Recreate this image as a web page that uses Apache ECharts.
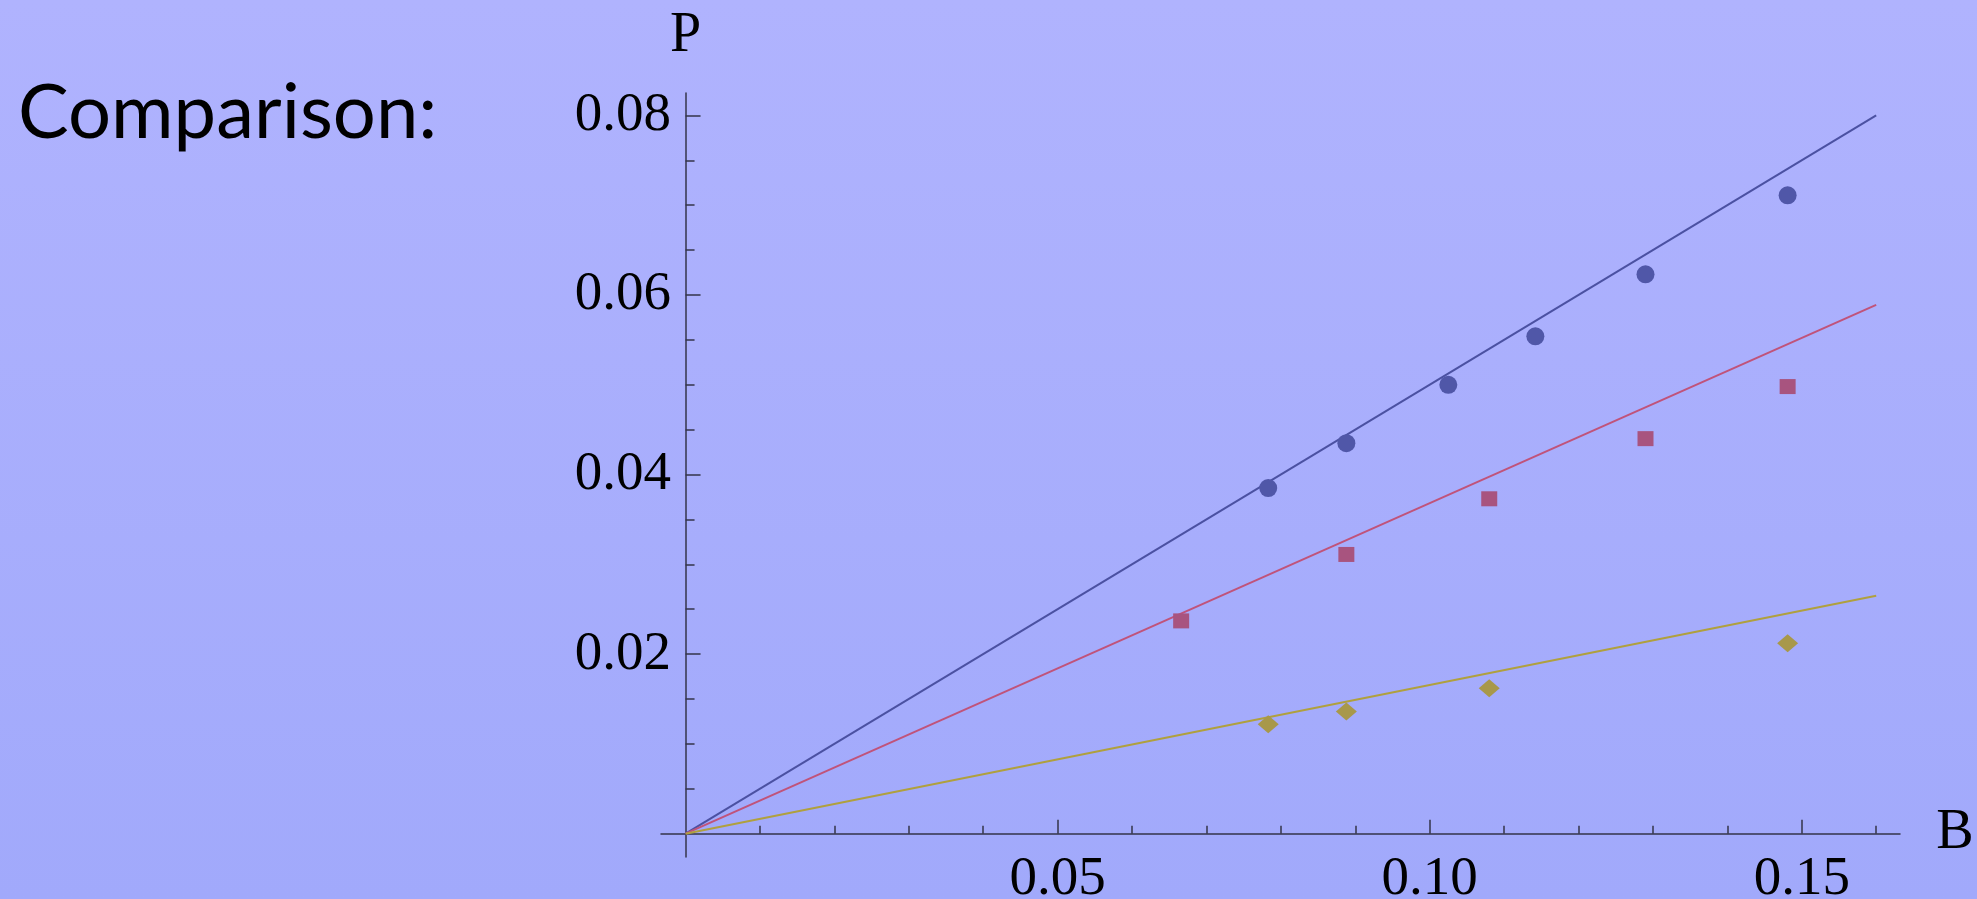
<!DOCTYPE html>
<html>
<head>
<meta charset="utf-8">
<script src="https://cdn.jsdelivr.net/npm/echarts@6/dist/echarts.min.js"></script>
<style>
html,body{margin:0;padding:0;background:#a8aefc;}
#chart{width:1977px;height:899px;}
</style>
</head>
<body>
<div id="chart"></div>
<script>
// ---- data ----
const titleText = 'Comparison:';
const xName = 'B';
const yName = 'P';
const xMajorTicks = [0.05, 0.10, 0.15];
const xMinorTicks = [0.01, 0.02, 0.03, 0.04, 0.06, 0.07, 0.08, 0.09, 0.11, 0.12, 0.13, 0.14, 0.16];
const yMajorTicks = [0.02, 0.04, 0.06, 0.08];
const yMinorTicks = [0.005, 0.01, 0.015, 0.025, 0.03, 0.035, 0.045, 0.05, 0.055, 0.065, 0.07, 0.075];

const lineB = [0, 0.16];
const blueLineP = [0, 0.08];
const redLineP = [0, 0.0589];
const yellowLineP = [0, 0.0265];

const blueB = [0.0783, 0.0888, 0.1025, 0.1142, 0.1290, 0.1481];
const blueP = [0.0385, 0.0435, 0.0500, 0.0554, 0.0623, 0.0711];
const redB = [0.0666, 0.0888, 0.1080, 0.1290, 0.1481];
const redP = [0.0237, 0.0311, 0.0373, 0.0440, 0.0498];
const yellowB = [0.0783, 0.0888, 0.1080, 0.1481];
const yellowP = [0.0122, 0.0136, 0.0162, 0.0212];

// ---- build ----
const zip = (a, b) => a.map((v, i) => [v, b[i]]);
const axisColor = '#35354a';
const serif = 'Liberation Serif';
const X_MIN = -0.0033, X_MAX = 0.1632, Y_MIN = -0.0026, Y_MAX = 0.0825;

const chart = echarts.init(document.getElementById('chart'));
chart.setOption({
  backgroundColor: new echarts.graphic.LinearGradient(0, 0, 0, 1, [
    {offset: 0, color: '#b0b3fe'},
    {offset: 1, color: '#a1a9fb'}
  ]),
  animation: false,
  title: {
    text: titleText, left: 13, top: 70,
    textStyle: {fontFamily: 'Lato', fontWeight: 'normal', fontSize: 76, color: '#000'}
  },
  grid: {left: 661, right: 77, top: 93, bottom: 42, containLabel: false, outerBoundsMode: 'none'},
  xAxis: [{
    type: 'value', min: X_MIN, max: X_MAX, position: 'bottom',
    name: xName, nameLocation: 'end', nameGap: 55,
    nameTextStyle: {fontFamily: serif, fontSize: 56, color: '#000', align: 'center', verticalAlign: 'middle'},
    axisLine: {show: true, onZero: true, lineStyle: {color: axisColor, width: 1.5}},
    axisTick: {show: true, inside: true, length: 8, customValues: xMinorTicks, lineStyle: {color: axisColor, width: 1.5}},
    axisLabel: {show: true, customValues: xMajorTicks, formatter: v => v.toFixed(2), fontFamily: serif, fontSize: 55, color: '#000', margin: -5},
    splitLine: {show: false}
  }, {
    type: 'value', min: X_MIN, max: X_MAX, position: 'bottom',
    axisLine: {show: false, onZero: true},
    axisTick: {show: true, inside: true, length: 14, customValues: xMajorTicks, lineStyle: {color: axisColor, width: 1.5}},
    axisLabel: {show: false},
    splitLine: {show: false}
  }],
  yAxis: [{
    type: 'value', min: Y_MIN, max: Y_MAX, position: 'left',
    name: yName, nameLocation: 'end', nameGap: 57,
    nameTextStyle: {fontFamily: serif, fontSize: 56, color: '#000', align: 'center', verticalAlign: 'middle'},
    axisLine: {show: true, onZero: true, lineStyle: {color: axisColor, width: 1.5}},
    axisTick: {show: true, inside: true, length: 9, customValues: yMinorTicks, lineStyle: {color: axisColor, width: 1.5}},
    axisLabel: {show: true, customValues: yMajorTicks, formatter: v => v.toFixed(2), fontFamily: serif, fontSize: 55, color: '#000', margin: -10},
    splitLine: {show: false}
  }, {
    type: 'value', min: Y_MIN, max: Y_MAX, position: 'left',
    axisLine: {show: false, onZero: true},
    axisTick: {show: true, inside: true, length: 15, customValues: yMajorTicks, lineStyle: {color: axisColor, width: 1.5}},
    axisLabel: {show: false},
    splitLine: {show: false}
  }],
  series: [
    {type: 'line', data: zip(lineB, blueLineP), showSymbol: false, lineStyle: {color: '#4b51a2', width: 2}, z: 2},
    {type: 'line', data: zip(lineB, redLineP), showSymbol: false, lineStyle: {color: '#c0537a', width: 2}, z: 2},
    {type: 'line', data: zip(lineB, yellowLineP), showSymbol: false, lineStyle: {color: '#b0a03e', width: 2}, z: 2},
    {type: 'scatter', data: zip(blueB, blueP), symbol: 'circle', symbolSize: 18, itemStyle: {color: '#5057a8', opacity: 1}, z: 3},
    {type: 'scatter', data: zip(redB, redP), symbol: 'rect', symbolSize: [16, 15], itemStyle: {color: '#a8547f', opacity: 1}, z: 3},
    {type: 'scatter', data: zip(yellowB, yellowP), symbol: 'diamond', symbolSize: [21, 18], itemStyle: {color: '#a8984a', opacity: 1}, z: 3}
  ]
});
</script>
</body>
</html>
